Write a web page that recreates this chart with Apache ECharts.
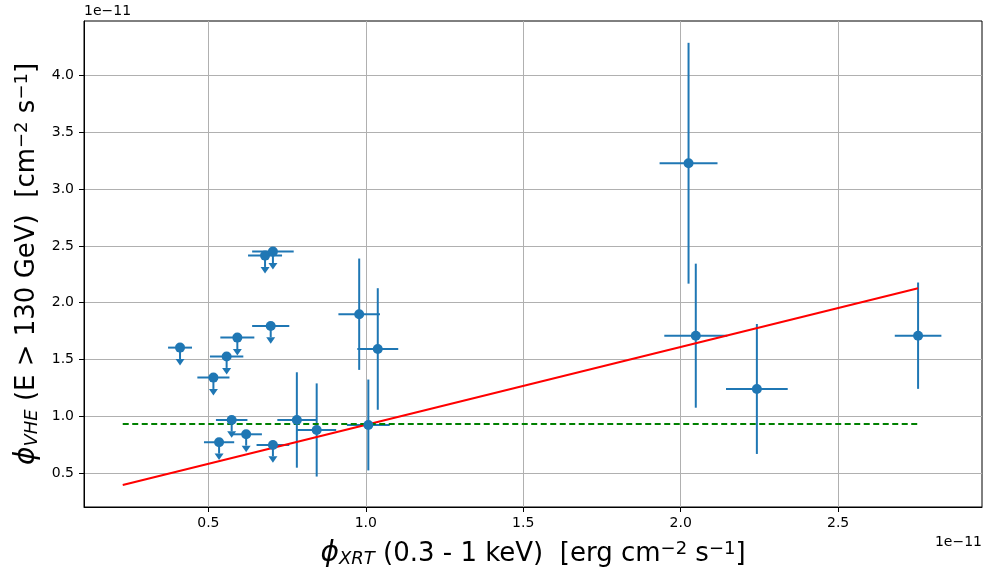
<!DOCTYPE html>
<html>
<head>
<meta charset="utf-8">
<script src="https://cdn.jsdelivr.net/npm/echarts@6/dist/echarts.min.js"></script>
<style>
  html, body { margin: 0; padding: 0; background: #fff; }
  #chart { width: 985px; height: 573px; }
</style>
</head>
<body>
<div id="chart"></div>
<script>
// values in units of 1e-11
const ulX = [0.410, 0.516, 0.558, 0.592, 0.698, 0.680, 0.705, 0.574, 0.620, 0.534, 0.705];
const ulY = [1.605, 1.341, 1.526, 1.693, 1.796, 2.415, 2.450, 0.968, 0.842, 0.772, 0.748];
const ulXerr = [0.038, 0.051, 0.053, 0.054, 0.059, 0.054, 0.066, 0.050, 0.050, 0.048, 0.052];
const ulArrow = 0.1;

const detX = [0.781, 0.844, 0.979, 1.038, 1.008, 2.025, 2.048, 2.242, 2.754];
const detY = [0.968, 0.880, 1.899, 1.593, 0.924, 3.228, 1.710, 1.241, 1.710];
const detXerr = [0.062, 0.062, 0.066, 0.065, 0.068, 0.092, 0.100, 0.098, 0.074];
const detYerr = [0.42, 0.41, 0.49, 0.535, 0.40, 1.06, 0.634, 0.572, 0.468];

const fitX = [0.228, 2.754];
const fitY = [0.396, 2.128];
const meanX = [0.228, 2.754];
const meanY = [0.933, 0.933];

const xTicks = [0.5, 1.0, 1.5, 2.0, 2.5];
const yTicks = [0.5, 1.0, 1.5, 2.0, 2.5, 3.0, 3.5, 4.0];

const blue = '#1f77b4';
const font = 'DejaVu Sans';

// [x, y, xerr, yerr, isUpperLimit]
const errData = ulX.map((x, i) => [x, ulY[i], ulXerr[i], ulArrow, 1])
  .concat(detX.map((x, i) => [x, detY[i], detXerr[i], detYerr[i], 0]));
const pointData = ulX.map((x, i) => [x, ulY[i]])
  .concat(detX.map((x, i) => [x, detY[i]]));

const chart = echarts.init(document.getElementById('chart'));

const nameRich = {
  i: { fontFamily: font, fontStyle: 'italic', fontSize: 28, color: '#000' },
  sub: { fontFamily: font, fontStyle: 'italic', fontSize: 18, color: '#000', verticalAlign: 'bottom', lineHeight: 18 },
  sup: { fontFamily: font, fontSize: 18, color: '#000', verticalAlign: 'top', lineHeight: 18 }
};

const option = {
  animation: false,
  backgroundColor: '#fff',
  grid: {
    left: 84, top: 21, right: 3, bottom: 66,
    show: true, borderColor: '#000', borderWidth: 1
  },
  xAxis: {
    type: 'value',
    min: 0.105,
    max: 2.957,
    splitNumber: 5,
    name: '{i|ϕ}{sub|XRT} (0.3 - 1 keV)  [erg cm{sup|−2} s{sup|−1}]',
    nameLocation: 'middle',
    nameGap: 33,
    nameTextStyle: { fontFamily: font, fontSize: 26, color: '#000', rich: nameRich },
    axisLine: { show: true, lineStyle: { color: '#000', width: 1 } },
    axisTick: { show: true, length: 5, lineStyle: { color: '#000' }, customValues: xTicks },
    axisLabel: {
      fontFamily: font, fontSize: 14, color: '#000', margin: 9,
      customValues: xTicks,
      formatter: v => v.toFixed(1)
    },
    splitLine: { show: true, lineStyle: { color: '#b0b0b0', width: 1 } }
  },
  yAxis: {
    type: 'value',
    min: 0.202,
    max: 4.48,
    splitNumber: 8,
    name: '{i|ϕ}{sub|VHE} (E > 130 GeV)  [cm{sup|−2} s{sup|−1}]',
    nameLocation: 'middle',
    nameGap: 32,
    nameTextStyle: { fontFamily: font, fontSize: 26, color: '#000', rich: nameRich },
    axisLine: { show: true, lineStyle: { color: '#000', width: 1 } },
    axisTick: { show: true, length: 5, lineStyle: { color: '#000' }, customValues: yTicks },
    axisLabel: {
      fontFamily: font, fontSize: 14, color: '#000', margin: 10,
      customValues: yTicks,
      formatter: v => v.toFixed(1)
    },
    splitLine: { show: true, lineStyle: { color: '#b0b0b0', width: 1 } }
  },
  graphic: [
    { type: 'text', left: 84, top: 4, style: { text: '1e\u221211', fontFamily: font, fontSize: 14, fill: '#000' } },
    { type: 'text', right: 3, top: 535, style: { text: '1e\u221211', fontFamily: font, fontSize: 14, fill: '#000' } }
  ],
  series: [
    {
      type: 'custom',
      z: 2,
      data: errData,
      encode: { x: 0, y: 1 },
      renderItem: function (params, api) {
        const x = api.value(0), y = api.value(1);
        const xe = api.value(2), ye = api.value(3), lim = api.value(4);
        const st = { stroke: blue, lineWidth: 2 };
        const l = api.coord([x - xe, y]), r = api.coord([x + xe, y]);
        const children = [
          { type: 'line', shape: { x1: l[0], y1: l[1], x2: r[0], y2: r[1] }, style: st }
        ];
        if (lim) {
          const top = api.coord([x, y]), bot = api.coord([x, y - ye]);
          children.push({ type: 'line', shape: { x1: top[0], y1: top[1], x2: bot[0], y2: bot[1] }, style: st });
          children.push({
            type: 'polygon',
            shape: { points: [[bot[0] - 4.5, bot[1]], [bot[0] + 4.5, bot[1]], [bot[0], bot[1] + 6.5]] },
            style: { fill: blue }
          });
        } else {
          const top = api.coord([x, y + ye]), bot = api.coord([x, y - ye]);
          children.push({ type: 'line', shape: { x1: top[0], y1: top[1], x2: bot[0], y2: bot[1] }, style: st });
        }
        return { type: 'group', children: children };
      }
    },
    {
      type: 'line',
      z: 3,
      data: fitX.map((x, i) => [x, fitY[i]]),
      symbol: 'none',
      lineStyle: { color: '#ff0000', width: 2 }
    },
    {
      type: 'line',
      z: 3,
      data: meanX.map((x, i) => [x, meanY[i]]),
      symbol: 'none',
      lineStyle: { color: '#008000', width: 2, type: [6, 3.5] }
    },
    {
      type: 'scatter',
      z: 4,
      data: pointData,
      symbol: 'circle',
      symbolSize: 10,
      itemStyle: { color: blue, opacity: 1 }
    }
  ]
};

chart.setOption(option);
</script>
</body>
</html>
